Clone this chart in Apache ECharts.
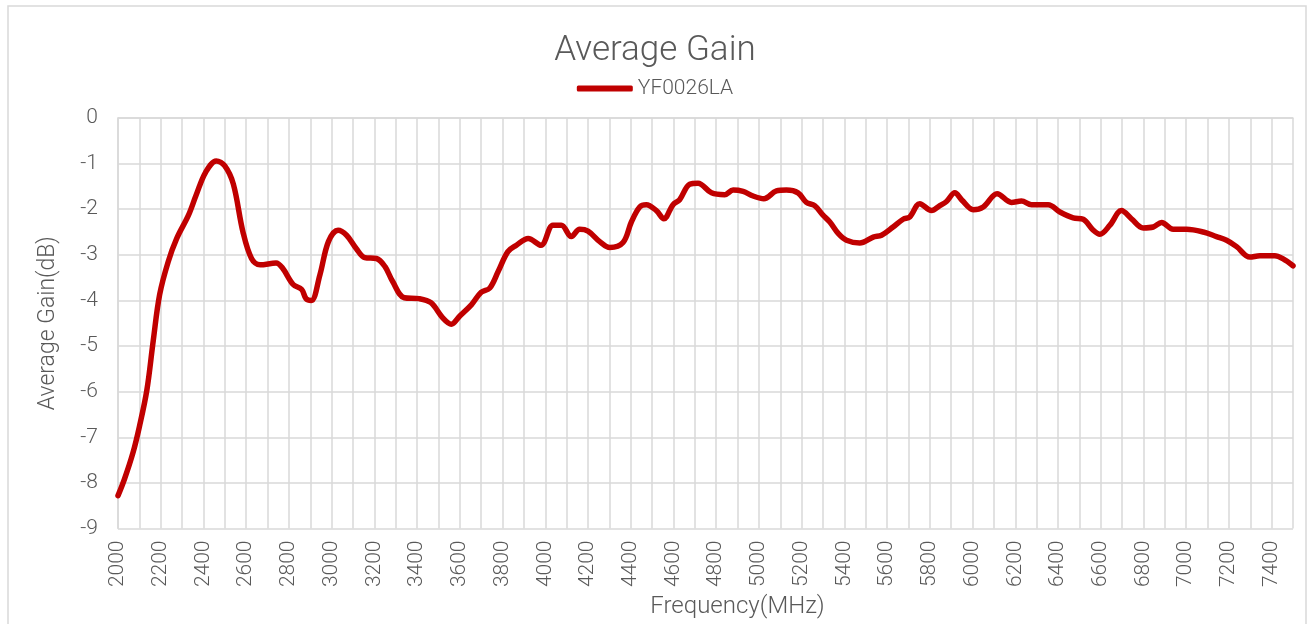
<!DOCTYPE html>
<html>
<head>
<meta charset="utf-8">
<script src="https://cdn.jsdelivr.net/npm/echarts@6/dist/echarts.min.js"></script>
<style>
  html, body { margin: 0; padding: 0; background: #fff; }
  #main { width: 1310px; height: 624px; }
</style>
</head>
<body>
<div id="main"></div>
<script>
// frequency (MHz) and gain (dB)
var freqs = [2000, 2030, 2070, 2100, 2135, 2165, 2195, 2235, 2275, 2330, 2365, 2410, 2460, 2500, 2540, 2585,
  2625, 2665, 2740, 2770, 2820, 2860, 2880, 2905, 2945, 2985, 3030, 3070, 3115, 3155, 3210, 3250,
  3285, 3340, 3410, 3465, 3520, 3560, 3600, 3655, 3700, 3740, 3780, 3825, 3865, 3920, 3980, 4036,
  4075, 4122, 4161, 4200, 4255, 4302, 4364, 4403, 4442, 4473, 4520, 4555, 4598, 4629, 4676, 4715,
  4778, 4840, 4879, 4926, 4973, 5023, 5082, 5129, 5183, 5222, 5261, 5300, 5332, 5371, 5410, 5472,
  5535, 5574, 5628, 5675, 5706, 5753, 5808, 5847, 5878, 5917, 5950, 6003, 6050, 6115, 6182, 6229,
  6276, 6354, 6409, 6471, 6518, 6565, 6596, 6643, 6697, 6744, 6799, 6846, 6885, 6939, 7002, 7080,
  7142, 7189, 7236, 7298, 7345, 7415, 7454, 7500];
var gains = [-8.28, -7.92, -7.34, -6.77, -5.97, -4.88, -3.87, -3.15, -2.64, -2.13, -1.70, -1.19, -0.94, -1.05, -1.45, -2.50,
  -3.08, -3.22, -3.18, -3.29, -3.65, -3.76, -3.96, -4.00, -3.44, -2.71, -2.46, -2.57, -2.86, -3.06, -3.08, -3.26,
  -3.58, -3.94, -3.96, -4.05, -4.38, -4.52, -4.34, -4.09, -3.82, -3.73, -3.36, -2.93, -2.79, -2.64, -2.79, -2.35,
  -2.35, -2.60, -2.44, -2.48, -2.71, -2.84, -2.73, -2.28, -1.95, -1.90, -2.03, -2.21, -1.90, -1.79, -1.45, -1.43,
  -1.64, -1.68, -1.58, -1.61, -1.71, -1.77, -1.60, -1.58, -1.64, -1.85, -1.92, -2.13, -2.28, -2.53, -2.68, -2.74,
  -2.61, -2.57, -2.39, -2.22, -2.17, -1.88, -2.03, -1.92, -1.83, -1.64, -1.80, -2.01, -1.95, -1.66, -1.85, -1.82,
  -1.90, -1.90, -2.06, -2.19, -2.22, -2.46, -2.55, -2.35, -2.03, -2.21, -2.41, -2.39, -2.29, -2.44, -2.44, -2.50,
  -2.60, -2.68, -2.82, -3.05, -3.02, -3.02, -3.09, -3.24];

var seriesName = 'YF0026LA';
var textColor = '#595959';
var gridColor = '#d9d9d9';
var fontFam = 'Roboto, "Noto Sans", sans-serif';

var points = freqs.map(function (f, i) { return [f, gains[i]]; });

var chart = echarts.init(document.getElementById('main'));
var option = {
  animation: false,
  textStyle: { fontFamily: fontFam },
  title: {
    text: 'Average Gain',
    left: 'center',
    top: 29,
    textStyle: { fontSize: 35, fontWeight: 300, color: textColor, fontFamily: fontFam }
  },
  legend: {
    data: [seriesName],
    top: 73,
    left: 'center',
    icon: 'roundRect',
    itemWidth: 56,
    itemHeight: 6,
    itemGap: 10,
    textStyle: { fontSize: 21, fontWeight: 300, color: textColor, fontFamily: fontFam }
  },
  graphic: [{
    type: 'rect',
    shape: { x: 8, y: 6, width: 1298, height: 630 },
    style: { fill: 'none', stroke: gridColor, lineWidth: 1.5 },
    silent: true
  }],
  grid: { left: 118, right: 17, top: 118, bottom: 92 },
  xAxis: {
    type: 'value',
    min: 2000,
    max: 7500,
    interval: 100,
    name: 'Frequency(MHz)',
    nameLocation: 'middle',
    nameGap: 62,
    nameTextStyle: { fontSize: 24, fontWeight: 300, color: textColor, fontFamily: fontFam, padding: [0, 0, 0, 64] },
    axisLine: { lineStyle: { color: gridColor, width: 1.5 } },
    axisTick: { show: false },
    axisLabel: {
      rotate: 90,
      fontSize: 21,
      fontWeight: 300,
      color: textColor,
      margin: 12,
      formatter: function (v) { return v % 200 === 0 ? String(v) : ''; }
    },
    splitLine: { show: true, lineStyle: { color: gridColor, width: 1.5 } }
  },
  yAxis: {
    type: 'value',
    min: -9,
    max: 0,
    interval: 1,
    name: 'Average Gain(dB)',
    nameLocation: 'middle',
    nameGap: 58,
    nameTextStyle: { fontSize: 23, fontWeight: 300, color: textColor, fontFamily: fontFam },
    axisLine: { show: true, lineStyle: { color: gridColor, width: 1.5 } },
    axisTick: { show: false },
    axisLabel: { fontSize: 21, fontWeight: 300, color: textColor, margin: 20 },
    splitLine: { lineStyle: { color: gridColor, width: 1.5 } }
  },
  series: [{
    name: seriesName,
    type: 'line',
    data: points,
    smooth: 0.35,
    showSymbol: false,
    lineStyle: { color: '#c00000', width: 5.5, cap: 'round', join: 'round' },
    itemStyle: { color: '#c00000' }
  }]
};
chart.setOption(option);
</script>
</body>
</html>
